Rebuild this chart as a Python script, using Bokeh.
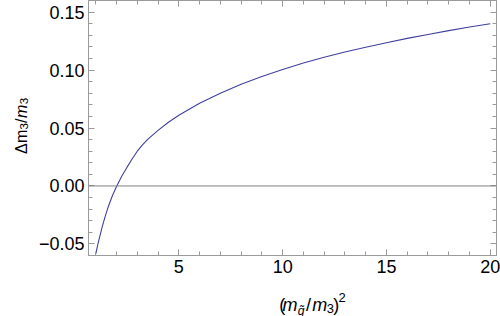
from bokeh.plotting import figure
from bokeh.models import Range1d, LinearAxis, FixedTicker, Span, Label
from bokeh.layouts import row, column
from bokeh.embed import file_html
from bokeh.resources import INLINE
import math

# ---- data ----
x_vals = [1.0, 1.1, 1.2, 1.3, 1.45, 1.6, 1.8, 2.0, 2.25, 2.5, 2.75, 3.0, 3.25, 3.5,
          4.0, 4.5, 5.0, 6.0, 7.0, 8.0, 9.0, 10.0, 11.0, 12.0, 13.0, 14.0, 15.0,
          16.0, 17.0, 18.0, 19.0, 20.0]
y_vals = [-0.0585, -0.0505, -0.0430, -0.0360, -0.0265, -0.0180, -0.0085, -0.0005,
          0.0083, 0.0160, 0.0233, 0.0300, 0.0355, 0.0402, 0.0480, 0.0550, 0.0610,
          0.0714, 0.0800, 0.0878, 0.0945, 0.1005, 0.1060, 0.1110, 0.1155, 0.1197,
          0.1236, 0.1273, 0.1307, 0.1340, 0.1371, 0.1400]

x_major = [5, 10, 15, 20]
x_minor = list(range(1, 21))
y_major = [-0.05, 0.0, 0.05, 0.10, 0.15]
y_minor = [round(-0.06 + 0.01 * i, 2) for i in range(23)]
y_tick_labels = {-0.05: "\u22120.05", 0.0: "0.00", 0.05: "0.05", 0.1: "0.10", 0.15: "0.15"}

FRAME = "#9a9a9a"
FONT = "Liberation Sans"

YW = 35   # width of the y-label strip
XH = 31   # height of the x-label strip
W, H = 500, 316

p = figure(width=W - YW, height=H - XH, x_range=Range1d(0.65, 20.3),
           y_range=Range1d(-0.06, 0.16),
           output_backend="svg", toolbar_location=None, x_axis_type=None, y_axis_type=None,
           min_border_left=86 - YW, min_border_right=4, min_border_top=0,
           min_border_bottom=(H - XH) - 255)
p.grid.visible = False
p.outline_line_color = FRAME
p.outline_line_width = 1
p.background_fill_color = "white"
p.border_fill_color = "white"


def make_axis(labels=True, xdir=True):
    ticks = x_major if xdir else y_major
    ax = LinearAxis(
        ticker=FixedTicker(ticks=ticks, minor_ticks=x_minor if xdir else y_minor),
        axis_line_color=FRAME, major_tick_line_color=FRAME, minor_tick_line_color=FRAME,
        major_tick_in=6, major_tick_out=0, minor_tick_in=4, minor_tick_out=0,
        major_label_text_font=FONT, major_label_text_font_size="18px",
        major_label_text_color="black", major_label_standoff=4)
    if not xdir:
        ax.major_label_overrides = y_tick_labels
    if not labels:
        ax.major_label_overrides = {t: "" for t in ticks}
        ax.major_label_standoff = 0
    return ax


p.add_layout(make_axis(True, True), "below")
p.add_layout(make_axis(True, False), "left")
p.add_layout(make_axis(False, True), "above")
p.add_layout(make_axis(False, False), "right")

p.add_layout(Span(location=0, dimension="width", line_color="#808080", line_width=1))
p.line(x_vals, y_vals, line_color="#4040a0", line_width=1.1)


def strip(width, height, x0, y0):
    f = figure(width=width, height=height, x_range=Range1d(x0, x0 + width),
               y_range=Range1d(y0 + height, y0), output_backend="svg",
               toolbar_location=None, x_axis_type=None, y_axis_type=None, min_border=0)
    f.grid.visible = False
    f.outline_line_color = None
    f.background_fill_color = "white"
    f.border_fill_color = "white"
    return f


yfig = strip(YW, H, 0, 0)
xfig = strip(W - YW, XH, YW, H - XH)


def piece(f, text, ix, iy, size, italic=False, angle=0.0):
    f.add_layout(Label(x=ix, y=iy, text=text, text_font=FONT, text_font_size=f"{size}px",
                       text_font_style="italic" if italic else "normal",
                       text_color="black", text_align="left", text_baseline="alphabetic",
                       angle=angle))


# x label: (m_q~ / m_3)^2   (image pixel positions)
BX = 304.5
piece(xfig, "(", 252.5, BX, 18)
piece(xfig, "m", 256, BX, 18, italic=True)
piece(xfig, "q\u0303", 273.5, BX + 6, 12, italic=True)
piece(xfig, "/", 283, BX, 18)
piece(xfig, "m", 290, BX, 18, italic=True)
piece(xfig, "3", 306.5, BX + 3, 13)
piece(xfig, ")", 314, BX, 18)
piece(xfig, "2", 320, BX - 8, 13)

# y label: Δm_3 / m_3 (rotated)
A = math.pi / 2
piece(yfig, "\u0394", 20.7, 153.5, 16, angle=A)
piece(yfig, "m", 20.7, 142.5, 16, angle=A)
piece(yfig, "3", 23.5, 129, 11.5, angle=A)
piece(yfig, "/", 20.7, 122.5, 16, angle=A)
piece(yfig, "m", 20.7, 117.5, 16, italic=True, angle=A)
piece(yfig, "3", 23.5, 103.8, 11.5, angle=A)

layout = row(yfig, column(p, xfig))
open("out.html", "w").write(file_html(layout, INLINE))
